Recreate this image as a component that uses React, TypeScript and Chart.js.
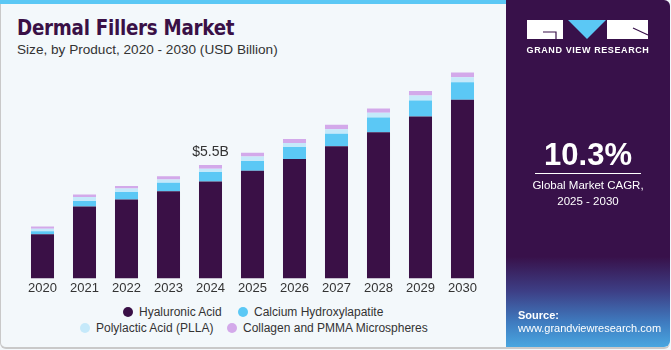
import React, { useEffect, useRef } from "react";
import { Chart, registerables } from "chart.js";

Chart.register(...registerables);

const years = ["2020", "2021", "2022", "2023", "2024", "2025", "2026", "2027", "2028", "2029", "2030"];
const hyaluronic = [2.14, 3.48, 3.82, 4.22, 4.7, 5.21, 5.79, 6.4, 7.08, 7.84, 8.65];
const calcium = [0.14, 0.27, 0.37, 0.41, 0.45, 0.48, 0.58, 0.61, 0.72, 0.78, 0.85];
const plla = [0.12, 0.19, 0.16, 0.16, 0.16, 0.21, 0.19, 0.22, 0.22, 0.24, 0.24];
const collagen = [0.11, 0.13, 0.13, 0.16, 0.19, 0.19, 0.19, 0.22, 0.21, 0.22, 0.24];
const seriesNames = ["Hyaluronic Acid", "Calcium Hydroxylapatite", "Polylactic Acid (PLLA)", "Collagen and PMMA Microspheres"];
const seriesColors = ["#3a1046", "#5bc8f5", "#c5e9fa", "#d3a9ea"];
const annotationIndex = 4;
const annotationText = "$5.5B";

const FONT = "'Liberation Sans', Arial, sans-serif";

const labelPlugin = {
  id: "totalLabel",
  afterDatasetsDraw(chart: any) {
    const meta = chart.getDatasetMeta(chart.data.datasets.length - 1);
    const el = meta.data[annotationIndex];
    if (!el) return;
    const ctx = chart.ctx;
    ctx.save();
    ctx.font = `14px ${FONT}`;
    ctx.fillStyle = "#333333";
    ctx.textAlign = "center";
    ctx.textBaseline = "middle";
    ctx.fillText(annotationText, el.x, el.y - 13);
    ctx.restore();
  },
};

function BarChart() {
  const ref = useRef<HTMLCanvasElement | null>(null);
  useEffect(() => {
    if (!ref.current) return;
    const data = [hyaluronic, calcium, plla, collagen];
    const chart = new Chart(ref.current, {
      type: "bar",
      data: {
        labels: years,
        datasets: data.map((d, i) => ({
          label: seriesNames[i],
          data: d,
          backgroundColor: seriesColors[i],
          borderWidth: 0,
          barPercentage: 0.548,
          categoryPercentage: 1,
        })),
      },
      options: {
        responsive: false,
        animation: false,
        devicePixelRatio: 1,
        layout: { padding: { left: 21.5, right: 16.5, top: 9, bottom: 0 } },
        plugins: { legend: { display: false }, tooltip: { enabled: false } },
        scales: {
          x: {
            stacked: true,
            grid: { display: false, drawTicks: false, tickLength: 0 },
            border: { display: false },
            ticks: { color: "#333333", font: { family: FONT, size: 13 }, padding: 2, maxRotation: 0 },
          },
          y: { stacked: true, display: false, min: 0, max: 10 },
        },
      },
      plugins: [labelPlugin],
    });
    return () => chart.destroy();
  }, []);
  return <canvas ref={ref} width={500} height={235} style={{ position: "absolute", left: 0, top: 62.5, width: 500, height: 235 }} />;
}

function LegendItem({ x, y, color, text }: { x: number; y: number; color: string; text: string }) {
  return (
    <div style={{ position: "absolute", left: x - 5, top: y - 8, height: 16, display: "flex", alignItems: "center", whiteSpace: "nowrap" }}>
      <span style={{ width: 10, height: 10, borderRadius: 5, background: color, display: "inline-block", marginRight: 6 }} />
      <span style={{ fontSize: 12, color: "#333", fontFamily: FONT }}>{text}</span>
    </div>
  );
}

export default function App() {
  return (
    <div style={{ position: "absolute", left: 0, top: 0, width: 671, height: 350, background: "#f3f8fb", fontFamily: FONT, overflow: "hidden" }}>
      <div style={{ position: "absolute", left: 0, top: 0, width: 669, height: 347, borderLeft: "1px solid #c9c9c9", borderBottom: "2px solid #c9c9c9", borderRadius: "0 0 6px 6px" }} />
      <div style={{ position: "absolute", left: 0, top: 0, width: 506, height: 4, background: "#5bc8f5" }} />
      <div style={{ position: "absolute", left: 17, top: 16, fontSize: 21, fontWeight: 900, color: "#3a1046", whiteSpace: "nowrap", fontFamily: "'DejaVu Sans', Arial, sans-serif", letterSpacing: -0.3, transform: "scaleX(0.87)", transformOrigin: "left" }}>Dermal Fillers Market</div>
      <div style={{ position: "absolute", left: 17, top: 42, fontSize: 13.6, color: "#333", whiteSpace: "nowrap" }}>Size, by Product, 2020 - 2030 (USD Billion)</div>
      <BarChart />
      <LegendItem x={128} y={312} color={seriesColors[0]} text={seriesNames[0]} />
      <LegendItem x={243} y={312} color={seriesColors[1]} text={seriesNames[1]} />
      <LegendItem x={85} y={328} color={seriesColors[2]} text={seriesNames[2]} />
      <LegendItem x={232} y={328} color={seriesColors[3]} text={seriesNames[3]} />
      <div style={{ position: "absolute", left: 506, top: 0, width: 164, height: 347, borderTopRightRadius: 6, borderBottomRightRadius: 6, background: "linear-gradient(180deg, #38114a 0%, #38114a 74%, #3d3f86 84%, #3f7cc0 93%, #49a6e0 100%)" }} />
      <svg style={{ position: "absolute", left: 0, top: 0 }} width={671} height={350}>
        <rect x={527} y={20} width={36} height={19} fill="#ffffff" />
        <path d="M543 32 H556 V39" stroke="#38114a" strokeWidth={1.2} fill="none" />
        <polygon points="568,20 606,20 587,39" fill="#5bc8f5" />
        <rect x={607} y={20} width={41} height={19} fill="#ffffff" />
        <line x1={633} y1={28} x2={648} y2={35} stroke="#38114a" strokeWidth={1.2} />
      </svg>
      <div style={{ position: "absolute", left: 506, top: 45, width: 164, textAlign: "center", color: "#fff", fontSize: 9, fontWeight: 700, letterSpacing: 0.6 }}>GRAND VIEW RESEARCH</div>
      <div style={{ position: "absolute", left: 506, top: 137, width: 164, textAlign: "center", color: "#fff", fontSize: 31, fontWeight: 700 }}>10.3%</div>
      <div style={{ position: "absolute", left: 535, top: 173, width: 106, height: 1, background: "#ffffff" }} />
      <div style={{ position: "absolute", left: 506, top: 177, width: 164, textAlign: "center", color: "#fff", fontSize: 11.5, lineHeight: "16px" }}>Global Market CAGR,<br />2025 - 2030</div>
      <div style={{ position: "absolute", left: 518, top: 309, color: "#fff", fontSize: 11, fontWeight: 700 }}>Source:</div>
      <div style={{ position: "absolute", left: 518, top: 322, color: "#fff", fontSize: 11, whiteSpace: "nowrap" }}>www.grandviewresearch.com</div>
    </div>
  );
}
